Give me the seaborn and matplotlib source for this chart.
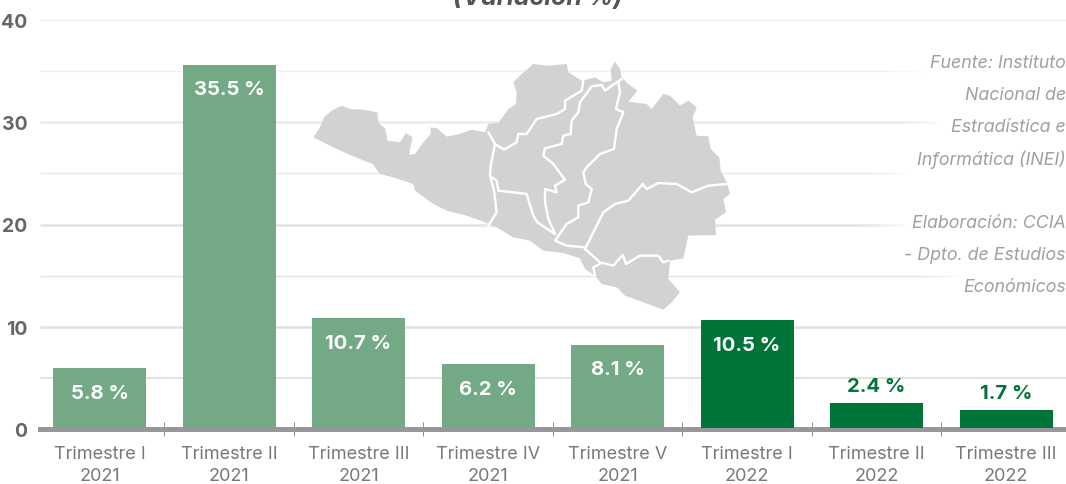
import numpy as np
import matplotlib
matplotlib.use("Agg")
import matplotlib.pyplot as plt
import seaborn as sns
from matplotlib.patches import Polygon
from matplotlib.transforms import Affine2D, ScaledTranslation
from matplotlib.collections import LineCollection

# ---- data ----
categories = ["Trimestre I\n2021", "Trimestre II\n2021", "Trimestre III\n2021", "Trimestre IV\n2021",
              "Trimestre V\n2021", "Trimestre I\n2022", "Trimestre II\n2022", "Trimestre III\n2022"]
values = [5.8, 35.5, 10.7, 6.2, 8.1, 10.5, 2.4, 1.7]
value_labels = ["5.8 %", "35.5 %", "10.7 %", "6.2 %", "8.1 %", "10.5 %", "2.4 %", "1.7 %"]
bar_colors = ["#73aa85"] * 5 + ["#017539"] * 3
y_ticks = [0, 10, 20, 30, 40]
title_text = "(Variación %)"
note_lines = ["Fuente: Instituto", "Nacional de", "Estradística e", "Informática (INEI)", "",
              "Elaboración: CCIA", "- Dpto. de Estudios", "Económicos"]

# decorative map (traced outline, not data)
map_outline = [(40,265),(60,235),(72,205),(95,185),(125,170),(150,180),(190,182),(232,190),(236,222),(256,240),(262,275),(300,280),(318,252),(338,265),(330,300),(328,318),(345,315),(370,280),(392,255),(392,235),(412,238),(440,263),(480,255),(515,242),(555,250),(565,225),(595,222),(625,180),(648,165),(650,130),(640,100),(665,75),(700,45),(740,50),(800,45),(805,70),(845,95),(885,85),(910,100),(935,95),(932,60),(945,38),(960,60),(965,85),(985,105),(1012,125),(985,158),(1040,165),(1055,180),(1090,135),(1110,140),(1140,170),(1165,155),(1190,175),(1178,205),(1190,260),(1225,262),(1232,300),(1258,325),(1262,365),(1280,400),(1290,435),(1270,450),(1278,490),(1245,512),(1248,558),(1165,560),(1150,628),(1110,635),(1105,690),(1140,730),(1115,760),(1090,782),(1030,760),(975,740),(950,715),(905,705),(885,680),(855,660),(840,628),(790,612),(730,605),(690,575),(640,565),(590,535),(555,520),(500,500),(440,485),(400,465),(345,425),(340,405),(280,385),(240,375),(218,345),(150,318),(100,295),(60,275)]
map_borders = [
    [(565,250),(585,285),(612,302),(650,280),(655,255),(680,255),(710,210),(770,195),(795,180),(795,155),(845,125),(850,95)],
    [(585,285),(572,350),(570,380),(582,425),(590,490),(565,530)],
    [(575,385),(590,395),(595,425),(640,430),(680,435),(700,500),(712,520),(765,555)],
    [(965,90),(935,110),(915,125),(905,108),(875,112),(840,160),(835,190),(815,215),(812,255),(790,260),(785,285),(735,298),(730,320),(760,345),(795,392),(765,410),(770,430),(735,420),(735,460),(745,510),(765,555)],
    [(955,100),(960,130),(948,180),(970,190),(950,240),(942,300),(900,315),(860,355),(850,370),(857,405),(875,420),(865,460),(835,470),(835,505),(800,525),(765,575),(800,590),(855,595)],
    [(1280,405),(1225,410),(1175,430),(1130,405),(1075,402),(1040,420),(1028,405),(985,455),(945,465),(910,490),(880,550),(855,600),(900,640),(940,650),(968,618),(978,645),(1020,620),(1075,620),(1090,640),(1105,635)],
    [(900,645),(880,655),(885,680)],
]

# ---- style constants ----
W, H = 1066, 485
PX = 72 / 100
sns.set_theme(style="white")
plt.rcParams["font.family"] = ["Inter", "DejaVu Sans"]

fig = plt.figure(figsize=(W / 100, H / 100), dpi=100, facecolor="white")
ax_top, ax_bot = 21, 430
ax = fig.add_axes([40 / W, 1 - ax_bot / H, (W - 40) / W, (ax_bot - ax_top) / H])
ax.set_facecolor("none")

sns.barplot(x=categories, y=values, hue=categories, palette=bar_colors, legend=False,
            width=0.718, saturation=1, ax=ax, zorder=3, linewidth=0, edgecolor="none")

# the bars stand slightly above the axis centre line, as in the source
up = ScaledTranslation(0, 1.3 / 100, fig.dpi_scale_trans)
for p in ax.patches:
    p.set_transform(ax.transData + up)

XL = (-0.4595, 7.463)
ax.set_xlim(*XL)
ax.set_ylim(0, 40)

# gridlines: (level, width px, colour, fade start px or None, fade end px)
grid_spec = [
    (40, 2.6, "#f4f4f4", None, None),
    (35, 1.4, "#efefef", 880, 925),
    (30, 2.6, "#ececec", 900, 942),
    (25, 1.4, "#e8e8e8", 870, 910),
    (20, 2.6, "#e4e4e4", 860, 908),
    (15, 1.4, "#e4e4e4", 920, 962),
    (10, 2.6, "#e2e2e2", None, None),
    (5, 2.0, "#e2e2e2", None, None),
]
px2x = lambda px: XL[0] + (px - 40) / 129.5
for lvl, lw, col, f0, f1 in grid_spec:
    end = f0 if f0 else W
    ax.hlines(lvl, px2x(40), px2x(end), color=col, lw=lw * PX, zorder=0, clip_on=False)
    if f0:
        xs = np.linspace(f0, f1, 13)
        segs = [[(px2x(a), lvl), (px2x(b), lvl)] for a, b in zip(xs[:-1], xs[1:])]
        cols = [matplotlib.colors.to_rgba(col, 1 - i / 12) for i in range(12)]
        ax.add_collection(LineCollection(segs, colors=cols, linewidths=lw * PX, zorder=0, capstyle="butt"))

# map in pixel coordinates of the zoomed trace
to_disp = (Affine2D().scale(1 / 3, 1 / 3).translate(300, 50).scale(1, -1).translate(0, H))
ax.add_patch(Polygon(map_outline, closed=True, facecolor="#d1d2d4", edgecolor="none",
                     transform=to_disp, zorder=1, clip_on=False))
for b in map_borders:
    arr = np.array(b)
    ax.plot(arr[:, 0], arr[:, 1], color="white", lw=2.4 * PX, transform=to_disp, zorder=2,
            solid_joinstyle="round", clip_on=False)
ax.set_xlim(*XL)
ax.set_ylim(0, 40)

# axes furniture
for s in ["top", "left", "right"]:
    ax.spines[s].set_visible(False)
ax.spines["bottom"].set_linewidth(5 * PX)
ax.spines["bottom"].set_color("#98989c")
ax.spines["bottom"].set_zorder(1.5)
ax.set_xticks(range(len(categories)))
ax.set_xticklabels(categories, fontsize=13, color="#787878", linespacing=1.4)
ax.set_xticks(np.arange(0.5, 7.5), minor=True)
ax.tick_params(axis="x", which="major", bottom=False, length=0, pad=11.5)
ax.tick_params(axis="x", which="minor", bottom=True, length=14 * PX, width=1 * PX, color="#8f8f8f", direction="inout")
ax.set_yticks(y_ticks)
ax.set_yticklabels([str(v) for v in y_ticks], fontsize=14, color="#666666", fontweight="bold")
ax.tick_params(axis="y", left=False, length=0, pad=9)
ax.set_xlabel("")
ax.set_ylabel("")

# value labels
for i, (v, lab) in enumerate(zip(values, value_labels)):
    inside = v > 5
    ax.annotate(lab, (i, v), xytext=(0, (-23 if inside else 18.5) * PX), textcoords="offset points",
                ha="center", va="center", fontsize=14.6, fontweight="bold",
                color="white" if inside else "#017539", zorder=5)

# title (cut by the top edge in the source)
fig.text(538 / W, 1 + 2 / H, title_text, ha="center", va="center", fontsize=18, fontweight="bold",
         fontstyle="italic", color="#555555")

# source notes
for ln, y in zip(note_lines, [64, 96, 128, 160, 192, 224, 256, 288]):
    if ln:
        fig.text(1 - 0 / W, 1 - y / H, ln, ha="right", va="center", fontsize=12.8, fontstyle="italic",
                 color="#a0a0a2")

fig.savefig("out.png", dpi=100, facecolor="white")
